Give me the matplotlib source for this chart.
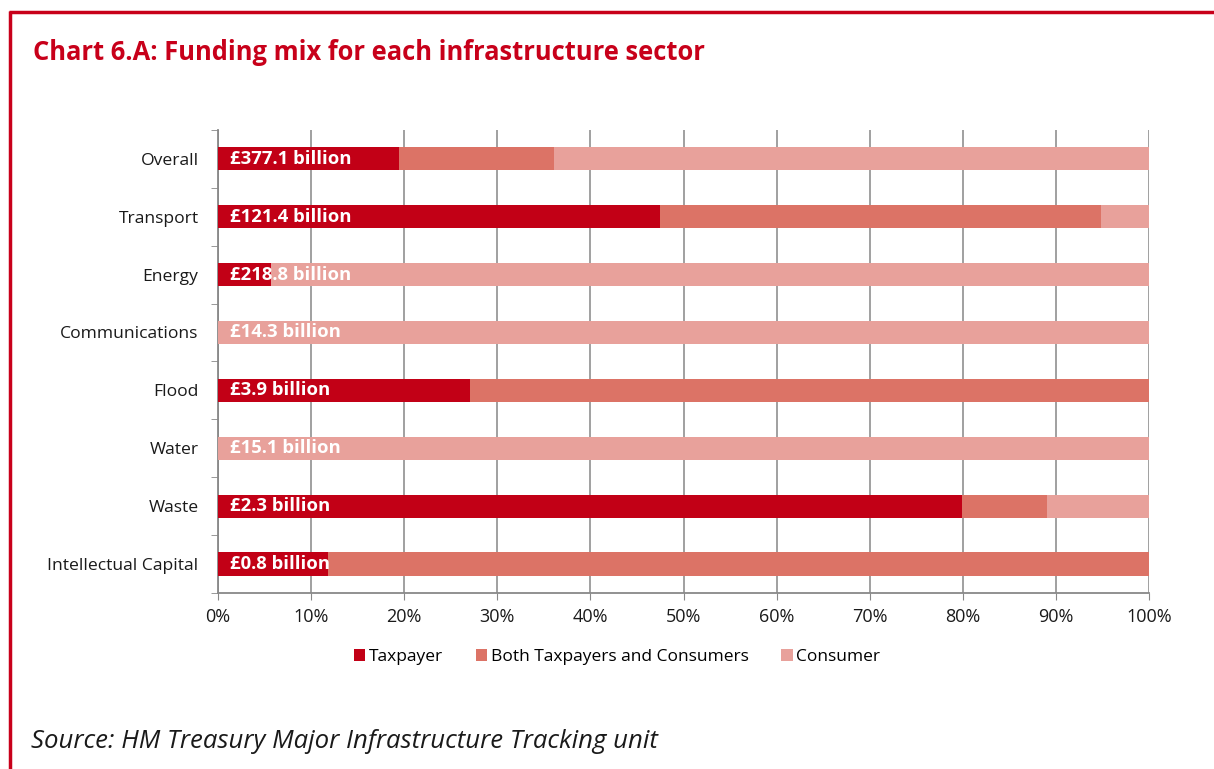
import matplotlib.pyplot as plt
from matplotlib.lines import Line2D
from matplotlib.ticker import MultipleLocator, FuncFormatter

plt.rcParams['font.family'] = ['Open Sans', 'DejaVu Sans']

sectors = ['Overall', 'Transport', 'Energy', 'Communications', 'Flood',
           'Water', 'Waste', 'Intellectual Capital']
totals = ['£377.1 billion', '£121.4 billion', '£218.8 billion', '£14.3 billion',
          '£3.9 billion', '£15.1 billion', '£2.3 billion', '£0.8 billion']
taxpayer = [19.4, 47.5, 5.7, 0.0, 27.1, 0.0, 79.9, 11.8]
both = [16.7, 47.3, 0.0, 0.0, 72.9, 0.0, 9.1, 88.2]
consumer = [63.9, 5.2, 94.3, 100.0, 0.0, 100.0, 11.0, 0.0]

colors = {'Taxpayer': '#C20016', 'Both Taxpayers and Consumers': '#DC7366',
          'Consumer': '#E8A19B'}
red = '#C8001A'

fig = plt.figure(figsize=(12.14, 7.69), dpi=100)
ax = fig.add_axes([0.1796, 0.229, 0.7669, 0.602])

ypos = range(len(sectors))
left = [0.0] * len(sectors)
for name, vals in [('Taxpayer', taxpayer), ('Both Taxpayers and Consumers', both),
                   ('Consumer', consumer)]:
    ax.barh(ypos, vals, left=left, height=0.4, color=colors[name], label=name, zorder=3)
    left = [l + v for l, v in zip(left, vals)]

for i, t in enumerate(totals):
    ax.annotate(t, xy=(0, i), xytext=(8.5, 0), textcoords='offset points',
                ha='left', va='center', color='white', fontsize=13.3,
                fontweight='bold', zorder=4)

ax.set_xlim(0, 100)
ax.set_ylim(len(sectors) - 0.5, -0.5)
ax.xaxis.set_major_locator(MultipleLocator(10))
ax.xaxis.set_major_formatter(FuncFormatter(lambda v, p: f'{v:.0f}%'))
ax.set_yticks(list(ypos))
ax.set_yticklabels(sectors)
ax.set_yticks([i - 0.5 for i in range(len(sectors) + 1)], minor=True)
ax.tick_params(axis='y', which='major', length=0, pad=14, labelsize=12.6, colors='#1a1a1a')
ax.tick_params(axis='y', which='minor', length=5, color='#888888', direction='out')
ax.tick_params(axis='x', which='major', length=5, color='#888888', direction='out',
               labelsize=13, labelcolor='#1a1a1a', pad=6)
ax.grid(axis='x', color='#999999', linewidth=1.3, zorder=0)
for s in ['top', 'right']:
    ax.spines[s].set_visible(False)
for s in ['left', 'bottom']:
    ax.spines[s].set_color('#888888')
    ax.spines[s].set_linewidth(1.3)

handles, labels = ax.get_legend_handles_labels()
fig.legend(handles, labels, loc='center', bbox_to_anchor=(617 / 1214, 1 - 657 / 769),
           ncol=3, frameon=False, fontsize=12.5, handlelength=0.65, handleheight=0.65,
           handletextpad=0.2, columnspacing=1.9)

# red frame
fig.add_artist(Line2D([9 / 1214, 1], [1 - 12 / 769, 1 - 12 / 769], color=red, linewidth=2.5,
                      solid_capstyle='butt', transform=fig.transFigure))
fig.add_artist(Line2D([10 / 1214, 10 / 1214], [0, 1 - 11 / 769], color=red, linewidth=2.5,
                      solid_capstyle='butt', transform=fig.transFigure))

fig.text(33 / 1214, 1 - 53 / 769, 'Chart 6.A: Funding mix for each infrastructure sector',
         color=red, fontsize=18.4, fontweight='bold', va='center', ha='left')
fig.text(31 / 1214, 1 - 741 / 769, 'Source: HM Treasury Major Infrastructure Tracking unit',
         fontsize=18.5, style='italic', color='#1a1a1a', va='center', ha='left')

plt.savefig('out.png', dpi=100)
